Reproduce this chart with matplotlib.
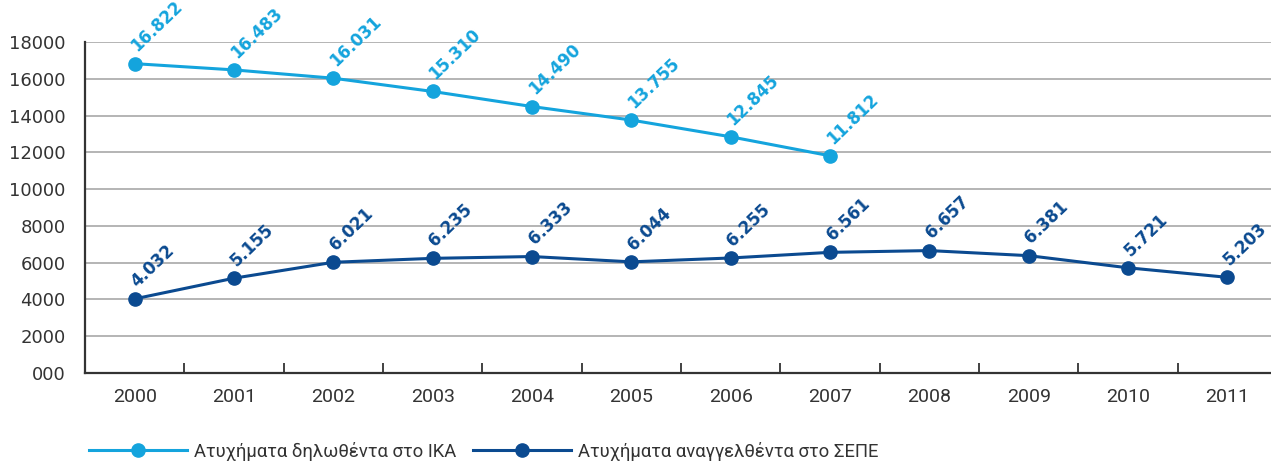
import matplotlib
matplotlib.use("Agg")
import matplotlib.pyplot as plt
from matplotlib.lines import Line2D

years = ["2000", "2001", "2002", "2003", "2004", "2005", "2006", "2007", "2008", "2009", "2010", "2011"]
ika = [16822, 16483, 16031, 15310, 14490, 13755, 12845, 11812]
sepe = [4032, 5155, 6021, 6235, 6333, 6044, 6255, 6561, 6657, 6381, 5721, 5203]
ytick_vals = [0, 2000, 4000, 6000, 8000, 10000, 12000, 14000, 16000, 18000]
ytick_labels = ["000", "2000", "4000", "6000", "8000", "10000", "12000", "14000", "16000", "18000"]
label_ika = "Ατυχήματα δηλωθέντα στο ΙΚΑ"
label_sepe = "Ατυχήματα αναγγελθέντα στο ΣΕΠΕ"

c_light = "#14A4DD"
c_dark = "#0B4A90"

def fmt(v):
    return f"{v:,}".replace(",", ".")

W, H = 1271, 461
fig = plt.figure(figsize=(W / 100, H / 100), dpi=100)
ax = fig.add_axes([85 / W, (H - 373) / H, 1192 / W, 331 / H])

x_ika = list(range(len(ika)))
x_sepe = list(range(len(sepe)))

ax.plot(x_ika, ika, color=c_light, lw=2.2, marker="o", ms=9.5, zorder=3, clip_on=False)
ax.plot(x_sepe, sepe, color=c_dark, lw=2.2, marker="o", ms=9.5, zorder=3, clip_on=False)

for xs, ys, c in [(x_ika, ika, c_light), (x_sepe, sepe, c_dark)]:
    for xi, yi in zip(xs, ys):
        ax.annotate(fmt(yi), (xi, yi), xytext=(4, 6), textcoords="offset points",
                    rotation=44, rotation_mode="anchor", ha="left", va="bottom",
                    color=c, fontsize=12, fontweight="bold", family="DejaVu Sans",
                    annotation_clip=False)

ax.set_xlim(-0.5, 11.5)
ax.set_ylim(0, 18000)
ax.set_yticks(ytick_vals)
ax.set_yticklabels(ytick_labels)
ax.set_xticks(range(len(years)))
ax.set_xticklabels(years)
ax.set_xticks([i + 0.5 for i in range(len(years) - 1)], minor=True)

ax.tick_params(axis="y", length=0, pad=14, labelsize=13, labelcolor="#333333")
ax.tick_params(axis="x", which="major", length=0, pad=11, labelsize=14, labelcolor="#333333")
ax.tick_params(axis="x", which="minor", direction="in", length=7, width=1.3, color="#333333")
for lab in ax.get_xticklabels():
    lab.set_family("Roboto")

ax.grid(axis="y", color="#A8A8A8", lw=1.2)
ax.set_axisbelow(True)
for s in ["top", "right"]:
    ax.spines[s].set_visible(False)
for s in ["left", "bottom"]:
    ax.spines[s].set_color("#333333")
    ax.spines[s].set_linewidth(1.6)

h1 = Line2D([], [], color=c_light, lw=2.2, marker="o", ms=9.5)
h2 = Line2D([], [], color=c_dark, lw=2.2, marker="o", ms=9.5)
leg = fig.legend([h1, h2], [label_ika, label_sepe], loc="center left",
                 bbox_to_anchor=(72 / W, (H - 451) / H), ncol=2, frameon=False,
                 handlelength=5.3, handletextpad=0.4, columnspacing=0.9,
                 prop={"family": "Roboto", "size": 13.3}, markerscale=1.0)
for t in leg.get_texts():
    t.set_color("#333333")

fig.savefig("out.png", dpi=100)
